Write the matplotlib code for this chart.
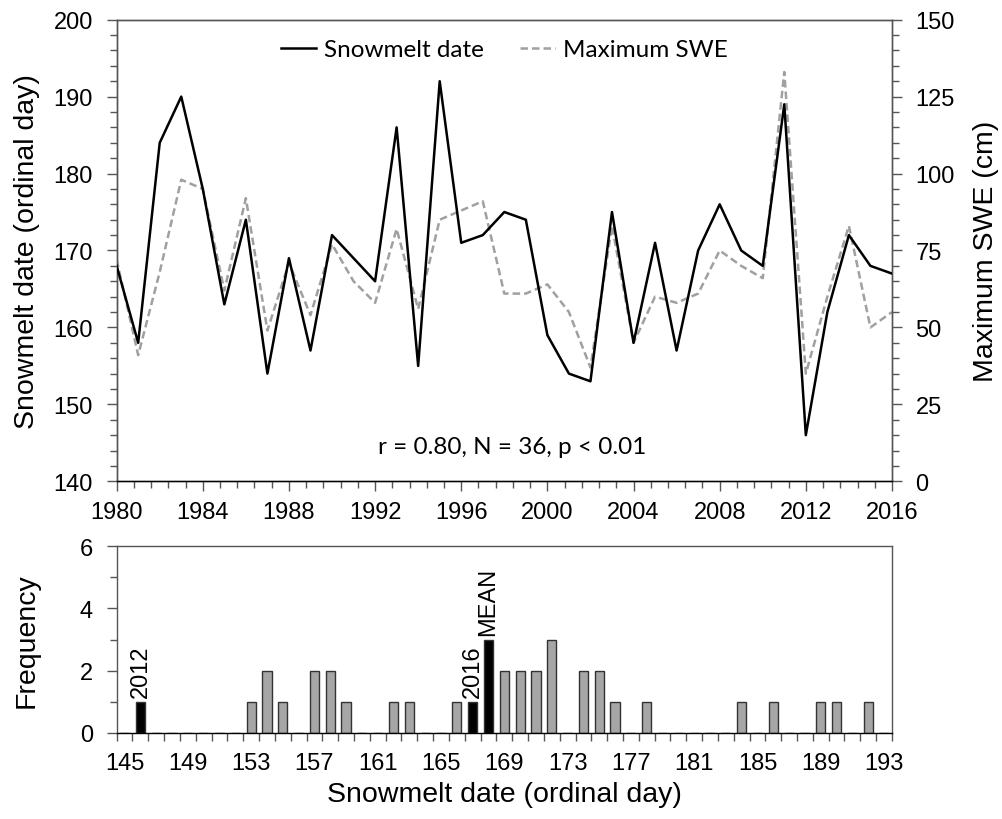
import numpy as np
import matplotlib
matplotlib.use("Agg")
import matplotlib.pyplot as plt
from matplotlib.ticker import MultipleLocator
from collections import Counter

plt.rcParams['font.family'] = ['Liberation Sans', 'DejaVu Sans']

# data
years = list(range(1980, 2017))
snowmelt = [168, 158, 184, 190, 178, 163, 174, 154, 169, 157, 172, 169, 166, 186, 155,
            192, 171, 172, 175, 174, 159, 154, 153, 175, 158, 171, 157, 170, 176, 170,
            168, 189, 146, 162, 172, 168, 167]
max_swe = [72, 41, 68, 98, 95, 62, 92, 49, 71, 54, 77, 65, 58, 82, 56,
           85, 88, 91, 61, 61, 64, 55, 37, 83, 45, 60, 58, 61, 75, 70,
           66, 133, 35, 60, 83, 50, 55]
stats_text = "r = 0.80, N = 36, p < 0.01"

days = list(range(145, 194))
highlight = {146: "2012", 167: "2016", 168: "MEAN"}

counts = Counter(snowmelt)
freq = [counts.get(d, 0) for d in days]

TICK = 17
LAB = 20.5
SPINE = '#555555'
CAL = ['Lato', 'DejaVu Sans']

fig = plt.figure(figsize=(10.03, 8.2), dpi=100)

# ---- top panel: time series
ax = fig.add_axes([0.1163, 0.4118, 0.7730, 0.5630])
ax2 = ax.twinx()
l1, = ax.plot(years, snowmelt, color='black', lw=1.8, label='Snowmelt date', zorder=3)
l2, = ax2.plot(years, max_swe, color='#a0a0a0', lw=1.8, ls=(0, (3, 1.6)), label='Maximum SWE')
ax.set_zorder(ax2.get_zorder() + 1)
ax.patch.set_visible(False)

ax.set_xlim(1980, 2016)
ax.set_ylim(140, 200)
ax2.set_ylim(0, 150)
ax.xaxis.set_major_locator(MultipleLocator(4))
ax.xaxis.set_minor_locator(MultipleLocator(0.8))
ax.yaxis.set_major_locator(MultipleLocator(10))
ax.yaxis.set_minor_locator(MultipleLocator(2))
ax2.yaxis.set_major_locator(MultipleLocator(25))
ax2.yaxis.set_minor_locator(MultipleLocator(5))

for a in (ax, ax2):
    a.tick_params(which='both', direction='out', labelsize=TICK, color=SPINE, width=1)
    a.tick_params(which='major', length=7)
    a.tick_params(which='minor', length=5)
    for s in a.spines.values():
        s.set_color(SPINE)
        s.set_linewidth(1)
ax.tick_params(axis='x', pad=7)
ax.tick_params(axis='y', pad=10)
ax2.tick_params(axis='y', pad=10)
ax.spines['bottom'].set_color('black')

ax.set_ylabel("Snowmelt date (ordinal day)", fontsize=LAB)
ax.yaxis.set_label_coords(-0.099, 0.5)
ax2.set_ylabel("Maximum SWE (cm)", fontsize=LAB)
ax2.yaxis.set_label_coords(1.104, 0.5)

ax.legend(handles=[l1, l2], loc='upper center', bbox_to_anchor=(0.5, 1.005), ncol=2,
          frameon=False, prop={'family': CAL, 'size': 17.5}, handlelength=1.45,
          columnspacing=1.5, handletextpad=0.3)
ax.text(0.51, 0.075, stats_text, transform=ax.transAxes, ha='center', va='center',
        fontsize=17.5, family=CAL)

# ---- bottom panel: histogram
bx = fig.add_axes([0.1163, 0.1049, 0.7730, 0.2280])
colors = ['black' if d in highlight else '#a6a6a6' for d in days]
bx.bar(days, freq, width=0.58, color=colors, edgecolor='#333333', linewidth=1, zorder=2)
for d, lab in highlight.items():
    bx.text(d, counts.get(d, 0) + 0.15, lab, rotation=90, ha='center', va='bottom',
            fontsize=TICK)

bx.set_xlim(144.5, 193.5)
bx.set_ylim(0, 6)
bx.set_xticks(days[::4])
bx.set_xticks(np.arange(144.5, 194, 1), minor=True)
bx.yaxis.set_major_locator(MultipleLocator(2))
bx.yaxis.set_minor_locator(MultipleLocator(1))
bx.tick_params(which='both', direction='out', labelsize=TICK, color=SPINE, width=1)
bx.tick_params(axis='x', which='major', length=0, pad=14)
bx.tick_params(axis='x', which='minor', length=6)
bx.tick_params(axis='y', which='major', length=7, pad=10)
bx.tick_params(axis='y', which='minor', length=5)
for s in bx.spines.values():
    s.set_color(SPINE)
    s.set_linewidth(1)
bx.spines['bottom'].set_color('black')
bx.set_ylabel("Frequency", fontsize=LAB)
bx.yaxis.set_label_coords(-0.099, 0.5)
bx.set_xlabel("Snowmelt date (ordinal day)", fontsize=LAB, labelpad=5)

fig.savefig("out.png", dpi=100)
